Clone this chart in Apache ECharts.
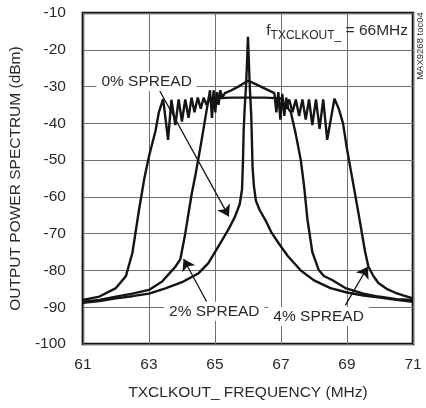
<!DOCTYPE html>
<html>
<head>
<meta charset="utf-8">
<script src="https://cdn.jsdelivr.net/npm/echarts@6/dist/echarts.min.js"></script>
<style>
html,body{margin:0;padding:0;background:#fff;}
#chart{width:426px;height:408px;}
</style>
</head>
<body>
<div id="chart"></div>
<script>
// ---- Data (frequency in MHz, power in dBm) ----
var xTicks = [61, 63, 65, 67, 69, 71];
var yTicks = [-100, -90, -80, -70, -60, -50, -40, -30, -20, -10];

// 0% spread
var freq0 = [61, 61.5, 62, 62.5, 63, 63.5, 64, 64.5, 64.8, 65.0, 65.2, 65.4, 65.6, 65.75, 65.82, 65.85, 65.87, 65.9, 65.94, 65.97, 66.0, 66.03, 66.06, 66.1, 66.12, 66.14, 66.18, 66.24, 66.35, 66.54, 66.7, 66.93, 67.2, 67.6, 68.0, 68.5, 69.0, 69.5, 70.0, 70.5, 71];
var pow0  = [-88.8, -88.3, -87.6, -87, -86.3, -84.9, -83.2, -80.8, -78, -75, -72, -69, -65.5, -62, -58, -50, -42, -36, -30, -24, -16.5, -24, -31, -38, -45, -52, -57, -61, -63.5, -66.5, -69.5, -72.6, -76, -80, -82.7, -84.8, -86, -86.8, -87.4, -88, -88.5];

// 2% spread
var freq2 = [61, 61.5, 62, 62.5, 63, 63.4, 63.6, 63.8, 63.95, 64.1, 64.2, 64.3, 64.41, 64.55, 64.7, 64.85, 64.91, 64.96, 65.01, 65.06, 65.11, 65.16, 65.22, 65.3, 65.5, 65.75, 66.0, 66.25, 66.5, 66.8, 66.86, 66.92, 66.98, 67.04, 67.1, 67.16, 67.22, 67.3, 67.45, 67.6, 67.7, 67.8, 67.95, 68.14, 68.3, 68.55, 68.95, 69.5, 69.95, 70.5, 71];
var pow2  = [-88.5, -88, -87.1, -86.3, -85.3, -83, -81, -79, -77, -70, -64.4, -59, -54, -47, -39, -31, -38.5, -31, -37, -31.5, -35, -31, -33, -31.8, -31, -29.8, -28.4, -29.4, -30.5, -31.8, -37, -31.5, -39, -32, -38, -33, -36, -37, -43, -50, -57, -66, -75, -79.8, -81.5, -82.6, -84.8, -86.3, -87.1, -87.8, -88];

// 4% spread
var freq4 = [61, 61.5, 62, 62.3, 62.5, 62.7, 62.86, 63.0, 63.2, 63.3, 63.43, 63.58, 63.68, 63.8, 63.9, 64.0, 64.1, 64.2, 64.29, 64.38, 64.48, 64.57, 64.66, 64.75, 64.85, 65.0, 65.5, 66.0, 66.5, 67.0, 67.15, 67.25, 67.35, 67.45, 67.55, 67.65, 67.75, 67.85, 67.95, 68.06, 68.17, 68.28, 68.4, 68.62, 68.75, 68.88, 69.0, 69.15, 69.35, 69.55, 69.65, 69.8, 69.95, 70.2, 70.45, 70.7, 71];
var pow4  = [-88, -87.1, -84.8, -81.6, -75.2, -63.5, -55, -49, -42, -37, -33.4, -44.5, -33.6, -40.5, -33.5, -39.5, -33.5, -38.5, -33, -37, -33, -36, -33, -35, -33, -33.2, -33, -33, -33, -33.2, -36, -33.5, -37, -33.5, -38, -33.5, -39, -33.5, -40.5, -33.5, -41.5, -33.5, -44.5, -33.3, -36, -40, -47, -54.5, -64.5, -75, -79, -81.5, -83.4, -85, -86, -86.8, -87.6];

// annotation texts and anchor points (data coordinates)
var labelTexts = ['0% SPREAD', '2% SPREAD', '4% SPREAD'];
var labelAt = [[62.93, -28.6], [64.98, -91.1], [68.14, -92.5]];
var arrowFrom = [[63.33, -31.2], [64.75, -88.5], [68.95, -89.5]];
var arrowTo   = [[65.42, -65.3], [64.05, -76.9], [69.63, -79.0]];

var FONT = "'Liberation Sans Narrow', 'Arial Narrow', 'Liberation Sans', Arial, sans-serif";
var FS = 15.5;
var INK = '#141414';
var TXT = '#2a2a2a';

function pairs(xs, ys){ return xs.map(function(x, i){ return [x, ys[i]]; }); }

var chart = echarts.init(document.getElementById('chart'), null, {renderer: 'canvas'});

var lineStyle = {color: INK, width: 2.4};

var option = {
  animation: false,
  textStyle: {fontFamily: FONT},
  grid: {left: 81, right: 13, top: 13, bottom: 64, show: true, borderColor: '#111', borderWidth: 2.6, backgroundColor: 'transparent'},
  xAxis: {
    type: 'value', min: xTicks[0], max: xTicks[xTicks.length - 1], interval: 2,
    axisLine: {show: false}, axisTick: {show: false},
    splitLine: {show: true, lineStyle: {color: '#6e6e6e', width: 1}},
    axisLabel: {fontSize: FS, color: TXT, margin: 13, fontFamily: FONT},
    name: 'TXCLKOUT_ FREQUENCY (MHz)', nameLocation: 'middle', nameGap: 41,
    nameTextStyle: {fontSize: FS, color: TXT, fontFamily: FONT}
  },
  yAxis: {
    type: 'value', min: yTicks[0], max: yTicks[yTicks.length - 1], interval: 10,
    axisLine: {show: false}, axisTick: {show: false},
    splitLine: {show: true, lineStyle: {color: '#6e6e6e', width: 1}},
    axisLabel: {fontSize: FS, color: TXT, margin: 17, fontFamily: FONT},
    name: 'OUTPUT POWER SPECTRUM (dBm)', nameLocation: 'middle', nameGap: 57, nameRotate: 90,
    nameTextStyle: {fontSize: FS, color: TXT, fontFamily: FONT}
  },
  series: [
    {name: '4% SPREAD', type: 'line', data: pairs(freq4, pow4), showSymbol: false, symbol: 'none', lineStyle: lineStyle, z: 3},
    {name: '2% SPREAD', type: 'line', data: pairs(freq2, pow2), showSymbol: false, symbol: 'none', lineStyle: lineStyle, z: 3},
    {name: '0% SPREAD', type: 'line', data: pairs(freq0, pow0), showSymbol: false, symbol: 'none', lineStyle: lineStyle, z: 3,
      markLine: {
        silent: true, animation: false,
        symbol: ['none', 'arrow'], symbolSize: 11,
        lineStyle: {color: INK, width: 1.3, type: 'solid'},
        label: {show: false},
        data: arrowFrom.map(function(p, i){ return [{coord: p}, {coord: arrowTo[i]}]; })
      },
      markPoint: {
        silent: true, animation: false,
        symbol: 'rect', symbolSize: 0,
        label: {show: true, position: 'inside', fontSize: FS, color: TXT, fontFamily: FONT,
                backgroundColor: '#fff', padding: [2, 5, 1, 5]},
        data: labelAt.map(function(p, i){ return {coord: p, value: labelTexts[i], label: {formatter: labelTexts[i]}}; })
      }
    }
  ],
  graphic: [
    {type: 'text', right: 18, top: 23, z: 10,
      style: {
        text: '{a|f}{b|TXCLKOUT_}{a| = 66MHz}',
        rich: {
          a: {fontSize: FS, fontFamily: FONT, fill: TXT, verticalAlign: 'bottom', lineHeight: 19},
          b: {fontSize: 12, fontFamily: FONT, fill: TXT, verticalAlign: 'bottom', lineHeight: 13, padding: [0, 0, -3, 0]}
        },
        fill: TXT
      }
    },
    {type: 'text', x: 420, y: 46, rotation: Math.PI / 2, z: 10,
      style: {text: 'MAX9268 toc04', fontSize: 9.5, fontFamily: FONT, fill: TXT, textAlign: 'center', textVerticalAlign: 'middle'}
    }
  ]
};
chart.setOption(option);
</script>
</body>
</html>
